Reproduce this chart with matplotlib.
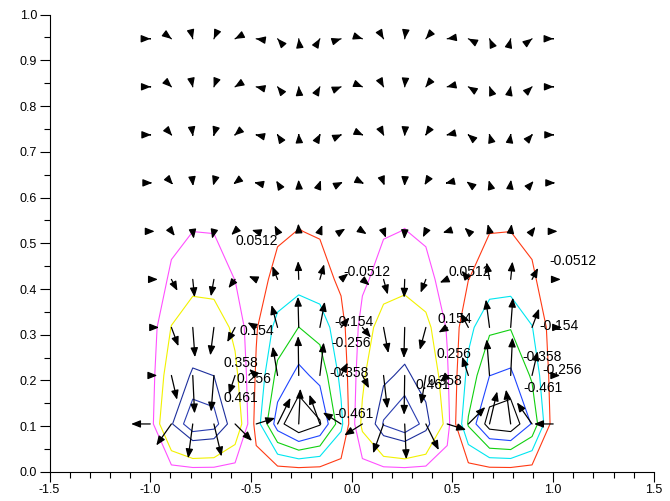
import matplotlib.pyplot as plt
from matplotlib.ticker import MultipleLocator, FormatStrFormatter

plt.rcParams['font.family'] = ['Liberation Sans', 'DejaVu Sans']

# grid of the field: 20 columns in x, 10 rows in y
x_grid = [-1.0, -0.895, -0.789, -0.684, -0.579, -0.474, -0.368, -0.263, -0.158, -0.053,
          0.053, 0.158, 0.263, 0.368, 0.474, 0.579, 0.684, 0.789, 0.895, 1.0]
y_grid = [0.0, 0.105, 0.211, 0.316, 0.421, 0.526, 0.632, 0.737, 0.842, 0.947]

# scalar field, one row per y value
psi = [
    [0, 0, 0, 0, 0, 0, 0, 0, 0, 0, 0, 0, 0, 0, 0, 0, 0, 0, 0, 0],
    [0, 0.347, 0.548, 0.517, 0.269, -0.093, -0.416, -0.563, -0.473, -0.183,
     0.183, 0.473, 0.563, 0.416, 0.093, -0.269, -0.517, -0.548, -0.347, 0],
    [0, 0.240, 0.378, 0.357, 0.186, -0.064, -0.287, -0.389, -0.327, -0.127,
     0.127, 0.327, 0.389, 0.287, 0.064, -0.186, -0.357, -0.378, -0.240, 0],
    [0, 0.158, 0.250, 0.236, 0.123, -0.042, -0.190, -0.257, -0.216, -0.084,
     0.084, 0.216, 0.257, 0.190, 0.042, -0.123, -0.236, -0.250, -0.158, 0],
    [0, 0.064, 0.102, 0.096, 0.050, -0.017, -0.077, -0.105, -0.088, -0.034,
     0.034, 0.088, 0.105, 0.077, 0.017, -0.050, -0.096, -0.102, -0.064, 0],
    [0, 0.033, 0.051, 0.049, 0.025, -0.009, -0.039, -0.053, -0.044, -0.017,
     0.017, 0.044, 0.053, 0.039, 0.009, -0.025, -0.049, -0.051, -0.033, 0],
    [0, 0.015, 0.023, 0.022, 0.011, -0.004, -0.018, -0.024, -0.020, -0.008,
     0.008, 0.020, 0.024, 0.018, 0.004, -0.011, -0.022, -0.023, -0.015, 0],
    [0, 0.007, 0.011, 0.010, 0.005, -0.002, -0.008, -0.011, -0.009, -0.004,
     0.004, 0.009, 0.011, 0.008, 0.002, -0.005, -0.010, -0.011, -0.007, 0],
    [0, 0.003, 0.005, 0.005, 0.002, -0.001, -0.004, -0.005, -0.004, -0.002,
     0.002, 0.004, 0.005, 0.004, 0.001, -0.002, -0.005, -0.005, -0.003, 0],
    [0, 0.001, 0.002, 0.002, 0.001, 0.0, -0.001, -0.002, -0.002, -0.001,
     0.001, 0.002, 0.002, 0.001, 0.0, -0.001, -0.002, -0.002, -0.001, 0],
]

# velocity components on the same grid
u = [
    [0, 0, 0, 0, 0, 0, 0, 0, 0, 0, 0, 0, 0, 0, 0, 0, 0, 0, 0, 0],
    [-0.095, -0.075, -0.023, 0.038, 0.084, 0.094, 0.064, 0.008, -0.052, -0.090,
     -0.090, -0.052, 0.008, 0.064, 0.094, 0.084, 0.038, -0.023, -0.075, -0.095],
    [0.035, 0.028, 0.009, -0.014, -0.031, -0.035, -0.024, -0.003, 0.019, 0.033,
     0.033, 0.019, -0.003, -0.024, -0.035, -0.031, -0.014, 0.009, 0.028, 0.035],
    [0.044, 0.035, 0.011, -0.018, -0.039, -0.043, -0.030, -0.004, 0.024, 0.042,
     0.042, 0.024, -0.004, -0.030, -0.043, -0.039, -0.018, 0.011, 0.035, 0.044],
    [0.038, 0.030, 0.009, -0.015, -0.033, -0.037, -0.026, -0.003, 0.021, 0.036,
     0.036, 0.021, -0.003, -0.026, -0.037, -0.033, -0.015, 0.009, 0.030, 0.038],
    [0.022, 0.017, 0.005, -0.009, -0.019, -0.022, -0.015, -0.002, 0.012, 0.021,
     0.021, 0.012, -0.002, -0.015, -0.022, -0.019, -0.009, 0.005, 0.017, 0.022],
    [0.010, 0.008, 0.002, -0.004, -0.009, -0.010, -0.007, -0.001, 0.005, 0.009,
     0.009, 0.005, -0.001, -0.007, -0.010, -0.009, -0.004, 0.002, 0.008, 0.010],
    [0.005, 0.004, 0.001, -0.002, -0.004, -0.005, -0.003, -0.0005, 0.003, 0.005,
     0.005, 0.003, -0.0005, -0.003, -0.005, -0.004, -0.002, 0.001, 0.004, 0.005],
    [0.003, 0.0024, 0.0007, -0.0012, -0.0026, -0.003, -0.002, -0.0003, 0.0016, 0.0028,
     0.0028, 0.0016, -0.0003, -0.002, -0.003, -0.0026, -0.0012, 0.0007, 0.0024, 0.003],
    [0.0015, 0.0012, 0.0004, -0.0006, -0.0013, -0.0015, -0.001, -0.0002, 0.0008, 0.0014,
     0.0014, 0.0008, -0.0002, -0.001, -0.0015, -0.0013, -0.0006, 0.0004, 0.0012, 0.0015],
]
v = [
    [0, 0, 0, 0, 0, 0, 0, 0, 0, 0, 0, 0, 0, 0, 0, 0, 0, 0, 0, 0],
    [0, -0.047, -0.075, -0.071, -0.037, 0.013, 0.057, 0.077, 0.064, 0.025,
     -0.025, -0.064, -0.077, -0.057, -0.013, 0.037, 0.071, 0.075, 0.047, 0],
    [0, -0.053, -0.083, -0.079, -0.041, 0.014, 0.063, 0.086, 0.072, 0.028,
     -0.028, -0.072, -0.086, -0.063, -0.014, 0.041, 0.079, 0.083, 0.053, 0],
    [0, -0.041, -0.065, -0.061, -0.032, 0.011, 0.049, 0.067, 0.056, 0.022,
     -0.022, -0.056, -0.067, -0.049, -0.011, 0.032, 0.061, 0.065, 0.041, 0],
    [0, -0.025, -0.039, -0.037, -0.019, 0.007, 0.029, 0.040, 0.033, 0.013,
     -0.013, -0.033, -0.040, -0.029, -0.007, 0.019, 0.037, 0.039, 0.025, 0],
    [0, -0.010, -0.016, -0.016, -0.008, 0.003, 0.013, 0.017, 0.014, 0.006,
     -0.006, -0.014, -0.017, -0.013, -0.003, 0.008, 0.016, 0.016, 0.010, 0],
    [0, -0.004, -0.007, -0.006, -0.003, 0.001, 0.005, 0.007, 0.006, 0.002,
     -0.002, -0.006, -0.007, -0.005, -0.001, 0.003, 0.006, 0.007, 0.004, 0],
    [0, -0.002, -0.003, -0.003, -0.0015, 0.0005, 0.002, 0.003, 0.0025, 0.001,
     -0.001, -0.0025, -0.003, -0.002, -0.0005, 0.0015, 0.003, 0.003, 0.002, 0],
    [0, -0.001, -0.0015, -0.0014, -0.0007, 0.0003, 0.0011, 0.0015, 0.0013, 0.0005,
     -0.0005, -0.0013, -0.0015, -0.0011, -0.0003, 0.0007, 0.0014, 0.0015, 0.001, 0],
    [0, -0.0004, -0.0007, -0.0006, -0.0003, 0.0001, 0.0005, 0.0007, 0.0006, 0.0002,
     -0.0002, -0.0006, -0.0007, -0.0005, -0.0001, 0.0003, 0.0006, 0.0007, 0.0004, 0],
]

levels = [-0.461, -0.358, -0.256, -0.154, -0.0512, 0.0512, 0.154, 0.256, 0.358, 0.461]
level_colors = ['#000000', '#1f45ff', '#10d010', '#00e6f0', '#ff3a14',
                '#ff50ff', '#f2f200', '#ffffff', '#1d2f9c', '#2a3db0']

# contour labels: text and where it sits
label_text = ['0.0512', '-0.0512', '0.0512', '-0.0512',
              '0.154', '-0.154', '-0.256', '0.358', '0.256', '0.461', '-0.358', '-0.461',
              '0.154', '0.256', '0.461', '0.358',
              '-0.154', '-0.358', '-0.256', '-0.461']
label_pos = [(-0.576, 0.504), (-0.040, 0.437), (0.481, 0.437), (0.983, 0.461),
             (-0.556, 0.308), (-0.084, 0.328), (-0.099, 0.282), (-0.635, 0.238),
             (-0.571, 0.203), (-0.635, 0.162), (-0.109, 0.216), (-0.084, 0.127),
             (0.427, 0.334), (0.422, 0.258), (0.318, 0.190), (0.377, 0.199),
             (0.933, 0.319), (0.849, 0.251), (0.948, 0.223), (0.854, 0.183)]

fig = plt.figure(figsize=(6.7, 5.01), dpi=100)
ax = fig.add_axes([0.0739, 0.0579, 0.9021, 0.9131])

ax.contour(x_grid, y_grid, psi, levels=levels, colors=level_colors,
           linewidths=0.8, zorder=1)

for j, y in enumerate(y_grid):
    for i, x in enumerate(x_grid):
        du, dv = u[j][i], v[j][i]
        if du == 0 and dv == 0:
            continue
        ax.annotate('', xy=(x + du, y + dv), xytext=(x, y),
                    arrowprops=dict(arrowstyle='-|>,head_length=0.55,head_width=0.22',
                                    color='black', lw=0.9, shrinkA=0, shrinkB=0,
                                    mutation_scale=10),
                    zorder=3)

for txt, (tx, ty) in zip(label_text, label_pos):
    ax.text(tx, ty, txt, fontsize=10, ha='left', va='center', zorder=2)

ax.set_xlim(-1.5, 1.5)
ax.set_ylim(0.0, 1.0)
ax.spines['top'].set_visible(False)
ax.spines['right'].set_visible(False)
ax.xaxis.set_major_locator(MultipleLocator(0.5))
ax.xaxis.set_minor_locator(MultipleLocator(0.1))
ax.yaxis.set_major_locator(MultipleLocator(0.1))
ax.yaxis.set_minor_locator(MultipleLocator(0.05))
ax.xaxis.set_major_formatter(FormatStrFormatter('%.1f'))
ax.yaxis.set_major_formatter(FormatStrFormatter('%.1f'))
ax.tick_params(which='major', length=7, width=0.8, labelsize=9, pad=2)
ax.tick_params(which='minor', length=4, width=0.8)

fig.savefig('out.png', dpi=100)
